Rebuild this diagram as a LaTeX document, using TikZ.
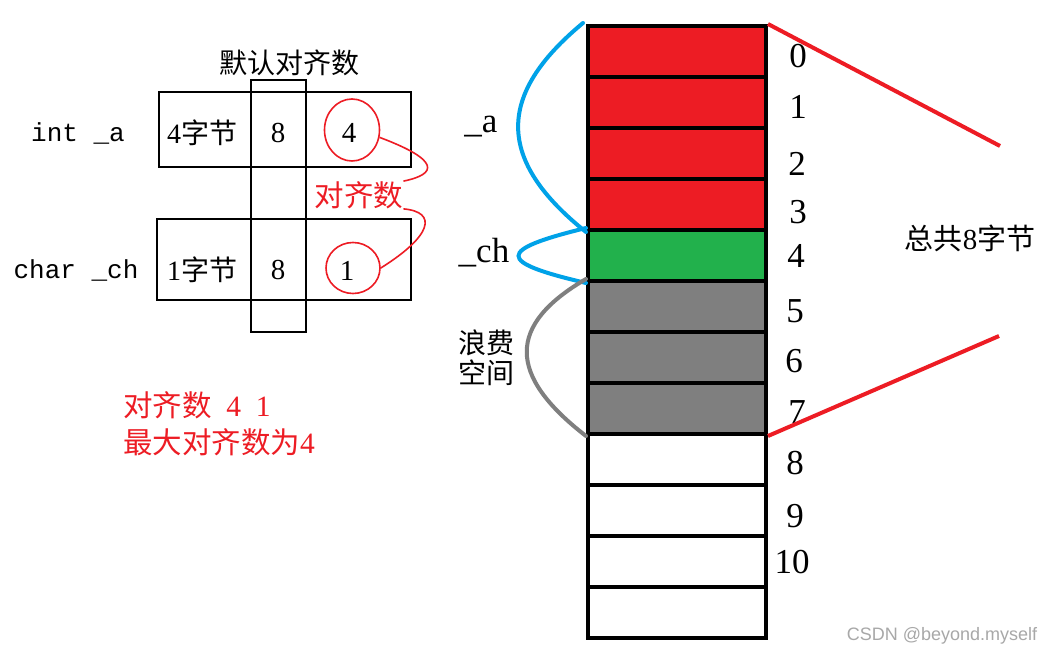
\documentclass[tikz,border=0pt]{standalone}
\usepackage{fontspec}
\setmainfont{Liberation Serif}
\newfontfamily\cjk{Noto Sans CJK SC}
\newfontfamily\monof{Liberation Mono}
\newfontfamily\wmf{Liberation Sans}
\usetikzlibrary{shapes.geometric}
\definecolor{pred}{HTML}{ED1C24}
\definecolor{pgreen}{HTML}{22B14C}
\definecolor{pgray}{HTML}{7F7F7F}
\definecolor{pblue}{HTML}{00A2E8}
\definecolor{wmgray}{HTML}{A8A8A8}
\tikzset{
  cell/.style={draw, line width=4pt, minimum width=178pt, minimum height=51pt, inner sep=0pt},
  num/.style={font=\fontsize{35}{35}\selectfont, inner sep=0pt},
  tbox/.style={draw, line width=2pt, inner sep=0pt},
  ttext/.style={font=\fontsize{29}{29}\selectfont, inner sep=0pt},
  ctext/.style={font=\cjk\fontsize{28}{28}\selectfont, inner sep=0pt},
  redtext/.style={font=\cjk\fontsize{29.5}{29.5}\selectfont, text=pred, inner sep=0pt},
  rcirc/.style={draw=pred, line width=1.6pt, ellipse, inner sep=0pt},
  rline/.style={draw=pred, line width=1.6pt},
  brace/.style={line width=4pt, line cap=round},
  bigred/.style={draw=pred, line width=4pt},
}
\begin{document}
\begin{tikzpicture}[x=1pt,y=-1pt]
\useasboundingbox[fill=white] (0,0) rectangle (1053,655);

% ---------------- memory column ----------------
\foreach \i/\c in {0/pred,1/pred,2/pred,3/pred,4/pgreen,5/pgray,6/pgray,7/pgray,8/white,9/white,10/white,11/white}{
  \node[cell, fill=\c] (m\i) at (677,{26+51*\i+25.5}) {};
}
\foreach \i/\x/\y in {0/798/56,1/798/107,2/797/164,3/798/212,4/796/256,5/795/311,6/794/361,7/797/412,8/795/463,9/795/516,10/792/562}{
  \node[num] (n\i) at (\x,\y) {\i};
}

% braces
\coordinate (atop) at (583,23);
\draw[brace, pblue] (atop) .. controls (496,95) and (496,160) .. (m3.south west);
\draw[brace, pblue] (m4.north west) .. controls (496,250) and (496,262) .. (m4.south west);
\draw[brace, pgray] (m5.north west) .. controls (507,325) and (507,375) .. (m7.south west);

\node[font=\fontsize{35}{35}\selectfont, inner sep=0pt] (la) at (481,127) {\_a};
\node[font=\fontsize{35}{35}\selectfont, inner sep=0pt] (lch) at (484,253) {\_ch};
\node[ctext, align=center] (waste) at (486,358) {浪费\\[2pt]空间};

% total lines
\coordinate (t1) at (1000,146);
\coordinate (t2) at (999,336);
\draw[bigred] (m0.north east) -- (t1);
\draw[bigred] (m7.south east) -- (t2);
\node[font=\cjk\fontsize{29}{29}\selectfont, inner sep=0pt] (total) at (970,238) {总共{\rmfamily 8}字节};

% ---------------- left table ----------------
\node[tbox, minimum width=252pt, minimum height=75pt] (rowa) at (285,129.5) {};
\node[tbox, minimum width=254pt, minimum height=81pt] (rowb) at (284,259.5) {};
\node[tbox, minimum width=55pt, minimum height=252pt] (col) at (278.5,206) {};

\node[ctext] (deft) at (289,63) {默认对齐数};
\node[font=\monof\fontsize{26}{26}\selectfont, inner sep=0pt] (ia) at (78,133) {int \_a};
\node[font=\monof\fontsize{26}{26}\selectfont, inner sep=0pt] (cc) at (76,270) {char \_ch};
\node[ctext] (sa) at (202,133) {{\rmfamily 4}字节};
\node[ctext] (sb) at (202,270) {{\rmfamily 1}字节};
\node[ttext] (ea) at (278,133) {8};
\node[ttext] (eb) at (278,270) {8};

\node[rcirc, minimum width=55pt, minimum height=62pt] (c1) at (352,130) {};
\node[rcirc, minimum width=54pt, minimum height=51pt] (c2) at (353,268) {};
\node[ttext] (v1) at (349,133) {4};
\node[ttext] (v2) at (347,271) {1};

\node[redtext] (al) at (359,195) {对齐数};
\draw[rline] (c1.-15) .. controls (440,160) and (438,174) .. (al.north east);
\draw[rline] (al.south east) .. controls (438,212) and (432,236) .. (c2.east);

\node[redtext, anchor=west] (r1) at (123,405) {对齐数\hspace{0.5em}{\rmfamily 4}\hspace{0.5em}{\rmfamily 1}};
\node[redtext, anchor=west] (r2) at (123,442) {最大对齐数为{\rmfamily 4}};

% watermark
\node[font=\wmf\fontsize{18}{18}\selectfont, text=wmgray, inner sep=0pt] (wm) at (942,636) {CSDN @beyond.myself};
\end{tikzpicture}
\end{document}
